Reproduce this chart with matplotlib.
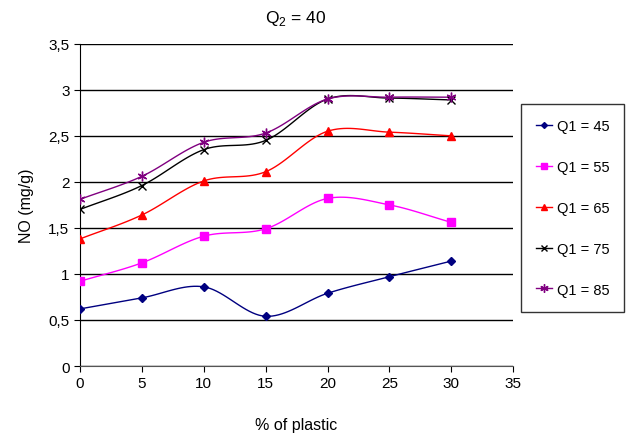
import numpy as np
import matplotlib
matplotlib.use("Agg")
import matplotlib.pyplot as plt

plt.rcParams['font.family'] = ['Liberation Sans', 'DejaVu Sans']

# data
plastic = [0, 5, 10, 15, 20, 25, 30]
q1_45 = [0.62, 0.74, 0.86, 0.54, 0.79, 0.97, 1.14]
q1_55 = [0.92, 1.12, 1.41, 1.49, 1.82, 1.75, 1.56]
q1_65 = [1.38, 1.64, 2.01, 2.11, 2.55, 2.54, 2.50]
q1_75 = [1.70, 1.96, 2.35, 2.45, 2.90, 2.91, 2.89]
q1_85 = [1.81, 2.06, 2.43, 2.53, 2.90, 2.92, 2.92]
labels = ['Q1 = 45', 'Q1 = 55', 'Q1 = 65', 'Q1 = 75', 'Q1 = 85']


def smooth(x, y, n=20):
    # Catmull-Rom curve through the points, like Excel's smoothed line
    x = np.asarray(x, float)
    y = np.asarray(y, float)
    px = np.concatenate([[2 * x[0] - x[1]], x, [2 * x[-1] - x[-2]]])
    py = np.concatenate([[2 * y[0] - y[1]], y, [2 * y[-1] - y[-2]]])
    xs, ys = [], []
    t = np.linspace(0, 1, n)
    for i in range(1, len(px) - 2):
        for p, out in ((px, xs), (py, ys)):
            p0, p1, p2, p3 = p[i - 1], p[i], p[i + 1], p[i + 2]
            out.extend(0.5 * ((2 * p1) + (-p0 + p2) * t
                              + (2 * p0 - 5 * p1 + 4 * p2 - p3) * t ** 2
                              + (-p0 + 3 * p1 - 3 * p2 + p3) * t ** 3))
    return xs, ys


fig = plt.figure(figsize=(6.29, 4.39), dpi=100)
ax = fig.add_axes([0.127, 0.164, 0.689, 0.734])

series = [q1_45, q1_55, q1_65, q1_75, q1_85]
colors = ['#000080', '#ff00ff', '#ff0000', '#000000', '#800080']
markers = ['D', 's', '^', 'x', (6, 2, 0)]
msizes = [4, 6, 6, 6, 7]

for vals, c, m, ms, lab in zip(series, colors, markers, msizes, labels):
    sx, sy = smooth(plastic, vals)
    ax.plot(sx, sy, color=c, lw=1.0, zorder=3)
    ax.plot(plastic, vals, ls='none', marker=m, ms=ms, color=c,
            mec=c, mew=1.0, zorder=4)
    ax.plot([], [], color=c, lw=1.0, marker=m, ms=ms - 1, mec=c, label=lab)

ax.set_xlim(0, 35)
ax.set_ylim(0, 3.5)
ax.set_xticks(np.arange(0, 36, 5))
ax.set_yticks(np.arange(0, 3.51, 0.5))
ax.set_yticklabels(['0', '0,5', '1', '1,5', '2', '2,5', '3', '3,5'])
ax.yaxis.grid(True, color='black', lw=1.0)
ax.set_axisbelow(True)
for s in ['top', 'right']:
    ax.spines[s].set_visible(False)
ax.spines['left'].set_color('black')
ax.spines['bottom'].set_color('#555555')
ax.tick_params(labelsize=11, length=4, colors='black')

ax.set_xlabel('% of plastic', fontsize=11.5, labelpad=19)
ax.set_ylabel('NO (mg/g)', fontsize=11.5, labelpad=10)
fig.text(0.47, 0.958, r'Q$_\mathregular{2}$ = 40', ha='center', va='center', fontsize=12.5)

leg = fig.legend(loc='upper left', bbox_to_anchor=(0.828, 0.761),
                 frameon=True, fancybox=False, fontsize=10.5,
                 labelspacing=1.84, borderpad=1.05, handlelength=1.1,
                 handletextpad=0.3, borderaxespad=0)
leg.get_frame().set_edgecolor('black')
leg.get_frame().set_linewidth(1.0)

fig.savefig('out.png', dpi=100)
